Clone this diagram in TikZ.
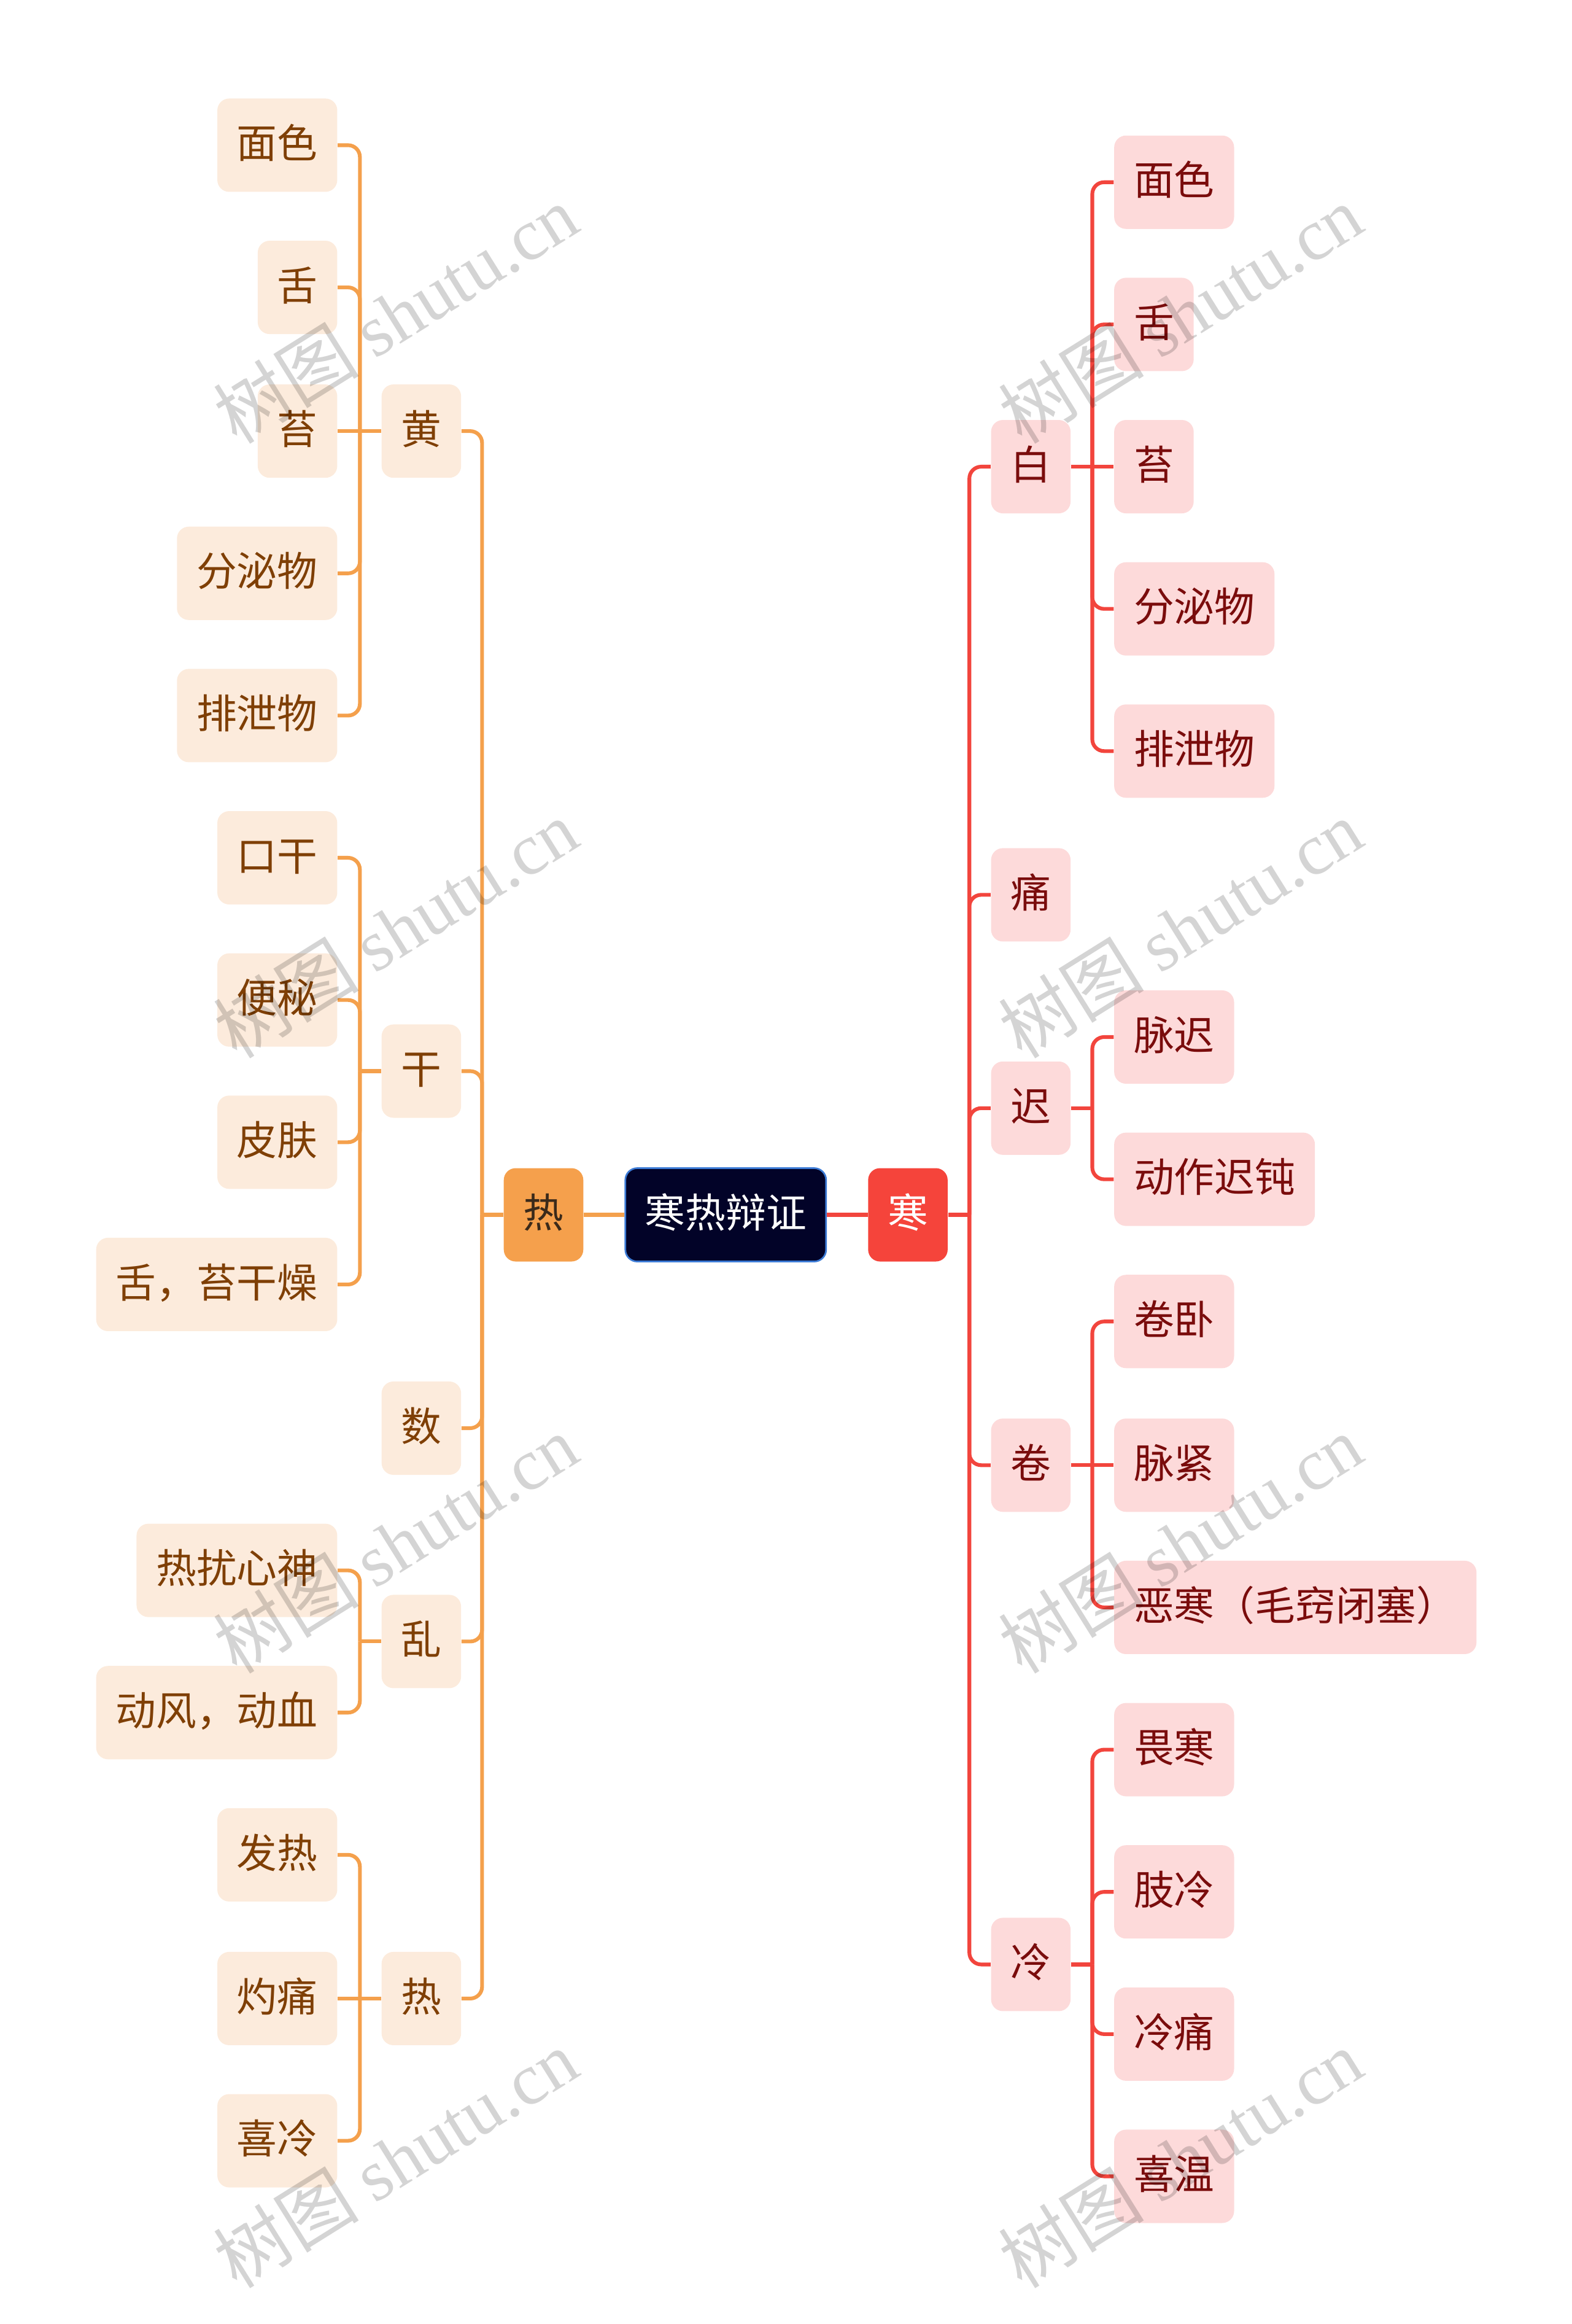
\documentclass[tikz,border=0pt]{standalone}
\usepackage{fontspec}
\setmainfont{Noto Sans CJK SC}
\newfontfamily\cjk{Noto Sans CJK SC}
\newfontfamily\wmserif{Liberation Serif}
\usetikzlibrary{calc}
\definecolor{colOr}{HTML}{F4A04C}
\definecolor{colOrFill}{HTML}{F5A04C}
\definecolor{colLFill}{HTML}{FCEBDC}
\definecolor{colLText}{HTML}{7F3F05}
\definecolor{colRed}{HTML}{F2453D}
\definecolor{colRedFill}{HTML}{F5443B}
\definecolor{colRFill}{HTML}{FDDADA}
\definecolor{colRText}{HTML}{7A0C0C}
\definecolor{colCen}{HTML}{020328}
\definecolor{colCenBd}{HTML}{3C7BD6}
\definecolor{colMainText}{HTML}{3B2A1A}
\tikzset{
  box/.style={rounded corners=0.2cm, inner xsep=0.33cm, inner ysep=0pt,
    minimum height=1.575cm, text height=1.25em, text depth=0em,
    font=\cjk\fontsize{19.4}{21}\selectfont},
  lbox/.style={box, fill=colLFill, text=colLText},
  rbox/.style={box, fill=colRFill, text=colRText},
  lleaf/.style={lbox, anchor=east},
  rleaf/.style={rbox, anchor=west},
  oln/.style={draw=colOr, line width=1.8pt},
  rln/.style={draw=colRed, line width=1.8pt},
  orc/.style={oln, rounded corners=0.2cm},
  rrc/.style={rln, rounded corners=0.2cm},
  wmark/.style={rotate=32, text=black, text opacity=0.17, font=\fontsize{35}{37}\selectfont}
}
\begin{document}
\begin{tikzpicture}[x=0.025cm, y=-0.025cm]
\useasboundingbox (0,0) rectangle (1061,1568.7);
% central
\node[box, fill=colCen, draw=colCenBd, line width=0.8pt, text=white] (cen) at (490,820) {寒热辩证};
\node[box, fill=colOrFill, text=colMainText] (re) at (367,820) {热};
\node[box, fill=colRedFill, text=white] (han) at (613,820) {寒};
% left level 1
\node[lbox] (huang) at (284.5,291) {黄};
\node[lbox] (gan) at (284.5,723) {干};
\node[lbox] (shu) at (284.5,964) {数};
\node[lbox] (luan) at (284.5,1108) {乱};
\node[lbox] (re2) at (284.5,1349) {热};
% left leaves
\node[lleaf] (l11) at (228,98) {面色};
\node[lleaf] (l12) at (228,194) {舌};
\node[lleaf] (l13) at (228,291) {苔};
\node[lleaf] (l14) at (228,387) {分泌物};
\node[lleaf] (l15) at (228,483) {排泄物};
\node[lleaf] (l21) at (228,579) {口干};
\node[lleaf] (l22) at (228,675) {便秘};
\node[lleaf] (l23) at (228,771) {皮肤};
\node[lleaf] (l24) at (228,867) {舌，苔干燥};
\node[lleaf] (l41) at (228,1060) {热扰心神};
\node[lleaf] (l42) at (228,1156) {动风，动血};
\node[lleaf] (l51) at (228,1252) {发热};
\node[lleaf] (l52) at (228,1349) {灼痛};
\node[lleaf] (l53) at (228,1445) {喜冷};
% right level 1
\node[rbox] (bai) at (696,315) {白};
\node[rbox] (tong) at (696,604) {痛};
\node[rbox] (chi) at (696,748) {迟};
\node[rbox] (juan) at (696,989) {卷};
\node[rbox] (leng) at (696,1326) {冷};
% right leaves
\node[rleaf] (r11) at (752,123) {面色};
\node[rleaf] (r12) at (752,219) {舌};
\node[rleaf] (r13) at (752,315) {苔};
\node[rleaf] (r14) at (752,411) {分泌物};
\node[rleaf] (r15) at (752,507) {排泄物};
\node[rleaf] (r31) at (752,700) {脉迟};
\node[rleaf] (r32) at (752,796) {动作迟钝};
\node[rleaf] (r41) at (752,892) {卷卧};
\node[rleaf] (r42) at (752,989) {脉紧};
\node[rleaf] (r43) at (752,1085) {恶寒（毛窍闭塞）};
\node[rleaf] (r51) at (752,1181) {畏寒};
\node[rleaf] (r52) at (752,1277) {肢冷};
\node[rleaf] (r53) at (752,1373) {冷痛};
\node[rleaf] (r54) at (752,1469) {喜温};
% junction coordinates
\coordinate (tl) at (325.5,820);
\coordinate (g1) at (243,291);
\coordinate (g2) at (243,723);
\coordinate (g4) at (243,1108);
\coordinate (g5) at (243,1349);
\coordinate (tr) at (654.5,820);
\coordinate (h1) at (737.5,315);
\coordinate (h3) at (737.5,748);
\coordinate (h4) at (737.5,989);
\coordinate (h5) at (737.5,1326);
% left connectors
\draw[oln] (cen.west) -- (re.east);
\draw[oln] (re.west) -- (tl);
\foreach \c in {huang,gan,shu,luan,re2} \draw[orc] (tl) |- (\c.east);
\draw[oln] (huang.west) -- (l13.east);
\foreach \c in {l11,l12,l14,l15} \draw[orc] (g1) |- (\c.east);
\draw[oln] (gan.west) -- (g2);
\foreach \c in {l21,l22,l23,l24} \draw[orc] (g2) |- (\c.east);
\draw[oln] (luan.west) -- (g4);
\foreach \c in {l41,l42} \draw[orc] (g4) |- (\c.east);
\draw[oln] (re2.west) -- (l52.east);
\foreach \c in {l51,l53} \draw[orc] (g5) |- (\c.east);
% right connectors
\draw[rln] (cen.east) -- (han.west);
\draw[rln] (han.east) -- (tr);
\foreach \c in {bai,tong,chi,juan,leng} \draw[rrc] (tr) |- (\c.west);
\draw[rln] (bai.east) -- (r13.west);
\foreach \c in {r11,r12,r14,r15} \draw[rrc] (h1) |- (\c.west);
\draw[rln] (chi.east) -- (h3);
\foreach \c in {r31,r32} \draw[rrc] (h3) |- (\c.west);
\draw[rln] (juan.east) -- (r42.west);
\foreach \c in {r41,r43} \draw[rrc] (h4) |- (\c.west);
\draw[rln] (leng.east) -- (h5);
\foreach \c in {r51,r52,r53,r54} \draw[rrc] (h5) |- (\c.west);
% watermarks
\foreach \wx in {267,797} \foreach \wy in {212,627,1042,1457}
  \node[wmark] (wm-\wx-\wy) at (\wx,\wy) {{\cjk 树图} {\wmserif shutu.cn}};
\end{tikzpicture}
\end{document}
